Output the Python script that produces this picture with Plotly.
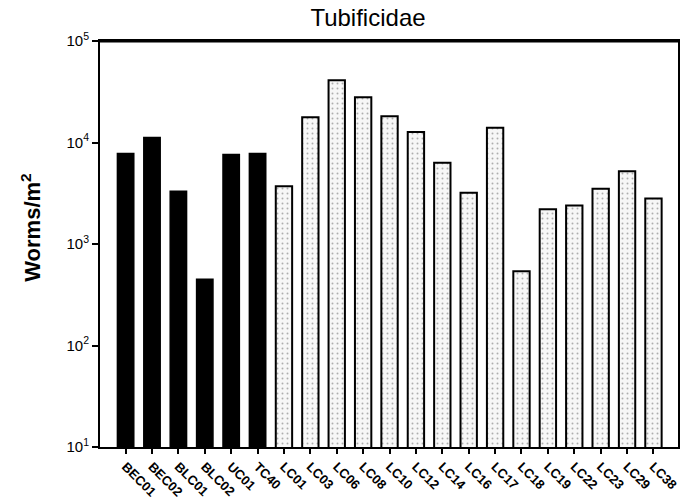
import plotly.graph_objects as go

sites_dark = ["BEC01", "BEC02", "BLC01", "BLC02", "UC01", "TC40"]
vals_dark = [7800, 11200, 3300, 450, 7600, 7800]
sites_light = ["LC01", "LC03", "LC06", "LC08", "LC10", "LC12", "LC14", "LC16",
               "LC17", "LC18", "LC19", "LC22", "LC23", "LC29", "LC38"]
vals_light = [3700, 17700, 41000, 27900, 18100, 12700, 6300, 3200,
              14000, 540, 2200, 2400, 3500, 5200, 2800]
ytick_vals = [10, 100, 1000, 10000, 100000]
ytick_text = ["10<sup>1</sup>", "10<sup>2</sup>", "10<sup>3</sup>", "10<sup>4</sup>", "10<sup>5</sup>"]

all_sites = sites_dark + sites_light

fig = go.Figure()
fig.add_trace(go.Bar(
    x=sites_dark, y=vals_dark, width=0.62,
    marker=dict(color="black", line=dict(color="black", width=1.5)),
    showlegend=False,
))
fig.add_trace(go.Bar(
    x=sites_light, y=vals_light, width=0.62,
    marker=dict(color="#f4f4f4", line=dict(color="black", width=2),
                pattern=dict(shape=".", fgcolor="#666666", bgcolor="#f7f7f7",
                             size=5, solidity=0.12)),
    showlegend=False,
))

fig.update_layout(
    width=681, height=499,
    margin=dict(l=100, r=3, t=41, b=52, autoexpand=False),
    plot_bgcolor="white", paper_bgcolor="white",
    font=dict(family="Liberation Sans, Arial, sans-serif", color="black"),
    title=dict(text="Tubificidae", x=368 / 681, xanchor="center",
               y=1 - 18 / 499, yanchor="middle",
               font=dict(size=24, color="black")),
    bargap=0.38,
)
fig.update_xaxes(
    type="category", categoryorder="array", categoryarray=all_sites,
    range=[-0.97, 20.93],
    showline=True, linecolor="black", linewidth=2, mirror=True,
    ticks="outside", ticklen=5, tickwidth=1.5, tickcolor="black",
    tickangle=45, tickfont=dict(size=13, family="Liberation Sans, Arial", weight="bold"),
    showgrid=False, automargin=False,
)
fig.update_yaxes(
    type="log", range=[1, 5],
    tickvals=ytick_vals, ticktext=ytick_text,
    showline=True, linecolor="black", linewidth=2, mirror=True,
    ticks="outside", ticklen=6, tickwidth=1.5, tickcolor="black",
    tickfont=dict(size=15),
    showgrid=False, zeroline=False, automargin=False,
)
fig.add_shape(type="line", xref="paper", yref="paper", x0=0, x1=1, y0=1, y1=1,
              line=dict(color="black", width=3))
fig.add_annotation(
    text="Worms/m<sup>2</sup>", textangle=-90,
    xref="paper", yref="paper", x=(31 - 100) / 578, y=0.54,
    xanchor="center", yanchor="middle", showarrow=False,
    font=dict(size=22, color="black", weight="bold"),
)

fig.write_html("out.html")
